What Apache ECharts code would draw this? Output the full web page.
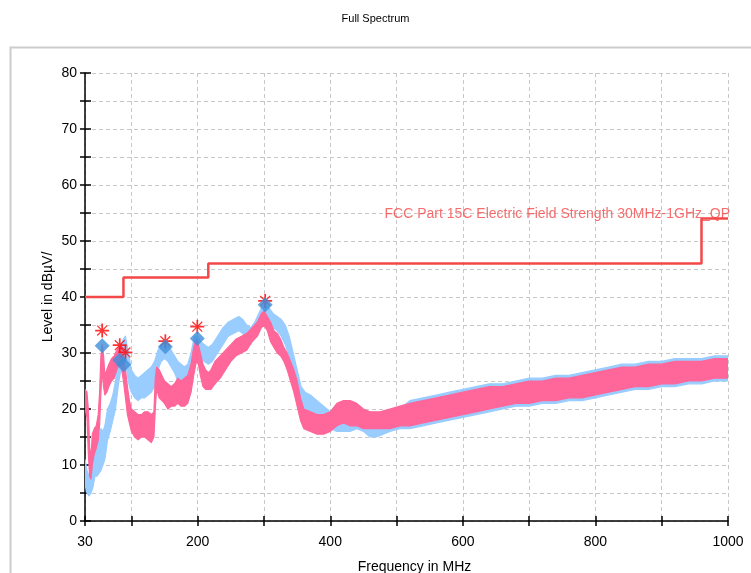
<!DOCTYPE html>
<html><head><meta charset="utf-8">
<script src="https://cdn.jsdelivr.net/npm/echarts@6/dist/echarts.min.js"></script>
<style>html,body{margin:0;padding:0;background:#fff}#c{width:751px;height:573px}</style>
</head><body><div id="c"></div>
<script>
// ---- data ----
const pinkFreq = [30,33,35,37,39,41,44,47,50,52,54,56,58,60,63,66,70,74,78,81,84,88,91,94,97,100,105,110,115,120,125,130,134,136,138,142,146,150,155,160,165,170,175,180,185,190,194,198,201,204,208,212,216,220,226,234,242,250,258,266,274,282,290,296,300,305,310,315,320,325,330,335,340,345,350,355,360,370,380,390,400,410,420,430,440,450,460,475,490,505,520,540,560,580,600,620,640,660,680,700,720,740,760,780,800,820,840,860,880,900,920,940,960,980,1000];
const pinkLo = [20,18.5,12,8,7.5,10,12,13,14.5,17,23,27,24,22.5,23,24,25,25.5,27,28,28,25,22,19,17.5,16,15,14.5,15,15,14.5,14,15,20,23.5,22,21.5,21,20,20.5,20.5,21,20.5,20.5,21,23,26,28.5,28,26,24,23.5,23.5,23.5,24.5,25.5,27,28.5,29.5,30,30.5,32,33,34.5,35,34,32,31,30,29.5,28.5,27,25,23,20.5,18,16.5,16,15.5,15.5,16,17,17.5,17,17,16.5,16.5,16.5,16.5,17,17,17.5,18,18.5,19,19.5,20,20.5,21,21,21.5,21.5,22,22,22.5,23,23.5,24,24,24.5,24.5,25,25,25.5,25.5];
const pinkHi = [23.5,23,20,13,11.5,15.5,16.5,17,19,23,29.5,31.5,29.5,26,27,28,29,29.5,30.5,31,31,29.5,27,24,21.5,20,19.5,19,19,19.5,19.5,19,19.5,25.5,27.5,27,26,25,24.5,24,24.5,25.5,25,25.5,26,28,31,32.5,31.5,30,28,27,26.5,27,28.5,29.5,30.5,31.5,32.5,33,33.5,34.5,35.5,37,37.5,36.5,35.5,34,33.5,32.5,31,30,28.5,27,25,22,20,19.5,19,19,19.5,21,21.5,21.5,21,20,19.5,19.5,20,20.5,21,21.5,22,22.5,23,23.5,24,24,24.5,25,25,25.5,25.5,26,26.5,27,27.5,27.5,28,28,28.5,28.5,28.5,29,29];

const blueFreq = [30,33,36,39,42,45,48,51,54,57,60,64,68,72,76,80,84,88,91,94,97,100,105,110,115,120,125,130,135,140,145,150,155,160,165,170,175,180,185,190,195,200,205,210,216,222,230,238,246,254,262,268,274,280,286,292,298,302,308,314,320,326,332,338,344,350,356,362,370,380,390,400,410,420,430,440,450,460,470,480,490,505,520,540,560,580,600,620,640,660,680,700,720,740,760,780,800,820,840,860,880,900,920,940,960,980,1000];
const blueLo = [6.5,5,4.5,5,6,8,8,8.5,9,10,11,14.5,16,18,20,24,27,28,29,26,24,23,22,21.5,22,22,22.5,23,24,27,28.5,29,28.5,27.5,26.5,25,24.5,23.5,24,26,29.5,30,29,28.5,28,28.5,30,31.5,33,33.5,34,33.5,32.5,31.5,33,34.5,36,36.5,35.5,34.5,34,33,31.5,29.5,26,23,21,20,19.5,18.5,17.5,16.5,16,16,16,16.5,16,15,15,15.5,16,16.5,16.5,17,17.5,18,18.5,19,19.5,20,20.5,20.5,21,21,21.5,21.5,22,22.5,23,23.5,23.5,24,24,24.5,24.5,25,25];
const blueHi = [11,9,8,9.5,13,15,14,15,16.5,16,17,20,21,22.5,25,29,31.5,32.5,33,31,29,27,26,25.5,26,26.5,27,27.5,28.5,30.5,31.5,32,31.5,30.5,29.5,28.5,28,27.5,28,30,33,33,32,31.5,31,31.5,33,34.5,35.5,36,36.5,36,35,34.5,35.5,37,38.5,39,38,37,36.5,36,35,33,30,27,24,23,22.5,21.5,20.5,19.5,19,18.5,19,19.5,19,18,17.5,18,19,20,21.5,22,22.5,23,23.5,24,24.5,24.5,25,25.5,25.5,26,26,26.5,27,27.5,28,28,28.5,28.5,29,29,29,29.5,29.5];

const limitFreq  = [30, 88, 216, 960, 1000];
const limitLevel = [40, 43.5, 46, 54, 54];
const limitName = 'FCC Part 15C Electric Field Strength 30MHz-1GHz_QP';

const starFreq  = [55.9, 82.4, 91, 151.2, 199.4, 301.8];
const starLevel = [34.0, 31.4, 30.1, 32.1, 34.7, 39.3];
const diamondFreq  = [55.9, 82.4, 88.4, 151.2, 199.4, 301.8];
const diamondLevel = [31.3, 28.75, 27.9, 31.1, 32.6, 38.6];

const xTickValues  = [30,100,200,300,400,500,600,700,800,900,1000];
const xLabelValues = [30,200,400,600,800,1000];

// ---- styles ----
const FONT = "'Liberation Sans', Arial, sans-serif";
const PINK = '#ff6699', BLUE = '#99ccff', RED = '#f44848', DIAMOND = '#3d8edb';
const STAR = 'path://M-1,-8 L1,-8 L1,8 L-1,8 Z M-8,-1 L8,-1 L8,1 L-8,1 Z M-5.16,-6.16 L6.16,5.16 L5.16,6.16 L-6.16,-5.16 Z M-6.16,5.16 L5.16,-6.16 L6.16,-5.16 L-5.16,6.16 Z';

const pairs = (f, v) => f.map((x, i) => [x, v[i]]);

// band between lo and hi envelopes, positioned via the axes (api.coord)
function bandSeries(name, f, lo, hi, color, z) {
  return {
    type: 'custom', name, z, clip: true,
    data: [[f[0], lo[0]]],
    encode: {x: 0, y: 1},
    renderItem: (params, api) => {
      const pts = [];
      for (let i = 0; i < f.length; i++) pts.push(api.coord([f[i], hi[i]]));
      for (let i = f.length - 1; i >= 0; i--) pts.push(api.coord([f[i], lo[i]]));
      return {type: 'polygon', shape: {points: pts},
        style: {fill: color, stroke: color, lineWidth: 1.2, lineJoin: 'round'}};
    }
  };
}

const chart = echarts.init(document.getElementById('c'), null, {renderer: 'canvas'});
const gridLine = {show: true, lineStyle: {color: '#c8c8c8', type: [4, 3], width: 1}};
chart.setOption({
  animation: false,
  backgroundColor: '#fff',
  title: {text: 'Full Spectrum', left: 'center', top: 8,
    textStyle: {fontFamily: FONT, fontSize: 11, fontWeight: 'normal', color: '#000'}},
  graphic: [{type: 'rect', left: 8, top: 45, shape: {width: 800, height: 600},
    style: {fill: 'none', stroke: '#cccccc', lineWidth: 2}, silent: true}],
  grid: {left: 85, right: 23, top: 73, bottom: 52, containLabel: false, outerBoundsMode: 'none'},
  xAxis: [{
    type: 'value', min: 30, max: 1000, position: 'bottom',
    axisLine: {onZero: false, lineStyle: {color: '#000', width: 1.5}},
    axisTick: {show: true, customValues: xTickValues, length: 5, lineStyle: {color: '#000', width: 1.5}},
    axisLabel: {customValues: xLabelValues, color: '#000', fontSize: 14, fontFamily: FONT, margin: 14,
      formatter: v => String(v)},
    splitLine: gridLine,
    name: 'Frequency in MHz', nameLocation: 'middle', nameGap: 39, nameMoveOverlap: false,
    nameTextStyle: {color: '#000', fontSize: 14, fontFamily: FONT, padding: [0, 0, 0, 16]}
  }, {
    type: 'value', min: 30, max: 1000, position: 'bottom',
    axisLine: {show: false},
    axisTick: {show: true, inside: true, customValues: xTickValues, length: 5, lineStyle: {color: '#000', width: 1.5}},
    axisLabel: {show: false}, splitLine: {show: false}
  }],
  yAxis: [{
    type: 'value', min: 0, max: 80, interval: 5,
    axisLine: {show: true, lineStyle: {color: '#000', width: 1.5}},
    axisTick: {show: true, length: 5, lineStyle: {color: '#000', width: 1.5}},
    axisLabel: {color: '#000', fontSize: 14, fontFamily: FONT, margin: 8,
      formatter: v => (v % 10 === 0 ? String(v) : '')},
    splitLine: gridLine,
    name: 'Level in dBµV/', nameLocation: 'middle', nameGap: 30, nameMoveOverlap: false,
    nameTextStyle: {color: '#000', fontSize: 14, fontFamily: FONT}
  }, {
    type: 'value', min: 0, max: 80, interval: 5, position: 'left',
    axisLine: {show: false},
    axisTick: {show: true, inside: true, length: 6, lineStyle: {color: '#000', width: 1.5}},
    axisLabel: {show: false}, splitLine: {show: false}
  }],
  series: [
    bandSeries('blue', blueFreq, blueLo, blueHi, BLUE, 2),
    bandSeries('pink', pinkFreq, pinkLo, pinkHi, PINK, 3),
    {type: 'line', name: limitName, data: pairs(limitFreq, limitLevel), step: 'end', symbol: 'none',
      lineStyle: {color: RED, width: 2.5}, z: 4},
    {type: 'scatter', name: 'limitLabel', data: [[limitFreq[limitFreq.length - 1], limitLevel[limitLevel.length - 1]]],
      symbolSize: 1, itemStyle: {color: 'rgba(0,0,0,0)'}, z: 4,
      label: {show: true, position: 'top', distance: 0, align: 'right', offset: [2, 3],
        formatter: limitName, color: RED, fontSize: 14, fontFamily: FONT}},
    {type: 'scatter', name: 'stars', data: pairs(starFreq, starLevel), symbol: STAR, symbolSize: 14,
      itemStyle: {color: '#ff0000'}, z: 5},
    {type: 'scatter', name: 'diamonds', data: pairs(diamondFreq, diamondLevel), symbol: 'diamond', symbolSize: 15,
      itemStyle: {color: DIAMOND}, z: 6}
  ]
});
</script></body></html>
